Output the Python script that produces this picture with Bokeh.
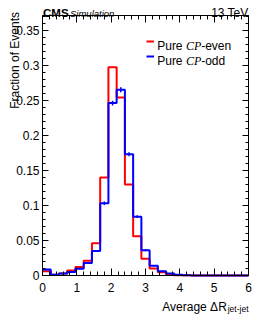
import math
from bokeh.plotting import figure
from bokeh.models import Label, LinearAxis, FixedTicker, Range1d
from bokeh.embed import file_html
from bokeh.resources import INLINE

# ---- data -------------------------------------------------------------
bin_edges = [0.00, 0.24, 0.48, 0.72, 0.96, 1.20, 1.44, 1.68, 1.92, 2.16,
             2.40, 2.64, 2.88, 3.12, 3.36, 3.60, 3.84, 4.08, 4.32, 4.56,
             4.80, 5.04, 5.28, 5.52, 5.76, 6.00]
cp_even = [0.0060, 0.0010, 0.0030, 0.0070, 0.0120, 0.0210, 0.0460, 0.1400,
           0.2970, 0.2540, 0.1300, 0.0560, 0.0240, 0.0100, 0.0047, 0.0015,
           0.0005, 0.0002, 0.0, 0.0, 0.0, 0.0, 0.0, 0.0, 0.0]
cp_odd = [0.0085, 0.0010, 0.0030, 0.0050, 0.0095, 0.0180, 0.0350, 0.1030,
          0.2460, 0.2650, 0.1730, 0.0840, 0.0360, 0.0140, 0.0060, 0.0030,
          0.0010, 0.0003, 0.0, 0.0, 0.0, 0.0, 0.0, 0.0, 0.0]
cp_odd_err = [0.0008, 0.0003, 0.0005, 0.0006, 0.0008, 0.0011, 0.0015, 0.0025,
              0.0035, 0.0035, 0.0030, 0.0020, 0.0015, 0.0010, 0.0006, 0.0004,
              0.0002, 0.0001, 0.0, 0.0, 0.0, 0.0, 0.0, 0.0, 0.0]

x_ticks = [0, 1, 2, 3, 4, 5, 6]
x_tick_labels = ["0", "1", "2", "3", "4", "5", "6"]
y_ticks = [0.0, 0.05, 0.1, 0.15, 0.2, 0.25, 0.3, 0.35]
y_tick_labels = ["0", "0.05", "0.1", "0.15", "0.2", "0.25", "0.3", "0.35"]

X_MAX = 6.0
Y_MAX = 0.371

# ---- layout: data box placed inside a full-canvas frame ----------------
W, H = 261, 327
FL, FR, FT, FB = 42.0, 248.0, 15.0, 275.0      # data box in canvas px
KX = (FR - FL) / X_MAX
KY = (FB - FT) / Y_MAX
XS = -FL / KX
XE = XS + W / KX
YE = Y_MAX + FT / KY
YS = YE - H / KY


def xd(px):
    return XS + px / KX


def yd(py):
    return YE - py / KY


FONT = "Liberation Sans"
p = figure(width=W, height=H, output_backend="svg", toolbar_location=None,
           x_range=Range1d(XS, XE), y_range=Range1d(YS, YE),
           min_border=0, min_border_left=0, min_border_right=0,
           min_border_top=0, min_border_bottom=0,
           x_axis_type=None, y_axis_type=None)
p.background_fill_color = "white"
p.border_fill_color = "white"
p.outline_line_color = None
p.xgrid.visible = False
p.ygrid.visible = False

x_minor = [round(0.2 * i, 2) for i in range(31)]
y_minor = [round(0.01 * i, 2) for i in range(38)]


def make_axis(side, loc, ticks, minor, labels, bounds, major_len, minor_len,
              show_labels, standoff):
    ax = LinearAxis(fixed_location=loc, bounds=bounds)
    ax.ticker = FixedTicker(ticks=ticks, minor_ticks=minor)
    ax.major_label_overrides = {t: l for t, l in zip(ticks, labels)}
    ax.major_tick_in = major_len
    ax.major_tick_out = 0
    ax.minor_tick_in = minor_len
    ax.minor_tick_out = 0
    ax.axis_line_color = "black"
    ax.axis_line_width = 1
    ax.major_tick_line_color = "black"
    ax.minor_tick_line_color = "black"
    ax.major_label_text_font = FONT
    ax.major_label_text_font_size = "12px"
    ax.major_label_standoff = standoff
    if show_labels:
        ax.major_label_text_color = "black"
    else:
        ax.major_label_text_color = None
    p.add_layout(ax, side)
    return ax


make_axis("below", 0.0, x_ticks, x_minor, x_tick_labels, (0, X_MAX), 7, 4, True, 7)
make_axis("above", Y_MAX, x_ticks, x_minor, x_tick_labels, (0, X_MAX), 7, 4, False, 0)
make_axis("left", 0.0, y_ticks, y_minor, y_tick_labels, (0, Y_MAX), 6, 3, True, 3)
make_axis("right", X_MAX, y_ticks, y_minor, y_tick_labels, (0, Y_MAX), 6, 3, False, 0)

# ---- histograms --------------------------------------------------------
p.step(x=bin_edges, y=cp_even + [cp_even[-1]], mode="after",
       line_color="#ff0000", line_width=2)
p.step(x=bin_edges, y=cp_odd + [cp_odd[-1]], mode="after",
       line_color="#0000ff", line_width=2)
centers = [(a + b) / 2 for a, b in zip(bin_edges[:-1], bin_edges[1:])]
p.segment(x0=centers, y0=[v - e for v, e in zip(cp_odd, cp_odd_err)],
          x1=centers, y1=[v + e for v, e in zip(cp_odd, cp_odd_err)],
          line_color="#0000ff", line_width=1.5)


def lab(text, px, py, size, align="left", baseline="alphabetic", font=FONT,
        style="normal", angle=0.0, color="black"):
    p.add_layout(Label(x=xd(px), y=yd(py), text=text, text_font=font,
                       text_font_size=size, text_font_style=style,
                       text_align=align, text_baseline=baseline,
                       angle=angle, text_color=color))


# header
lab("CMS", 42.5, 12.6, "11.5px", style="bold")
lab("Simulation", 69.5, 12.6, "9.5px", style="italic")
lab("13 TeV", 248.0, 12.8, "12px", align="right")

# axis titles
lab("Average \u0394R", 226.3, 306.0, "12px", align="right")
lab("jet-jet", 248.0, 308.7, "8.5px", align="right")
lab("Fraction of Events", 14.0, 11.5, "12px", align="right",
    angle=math.pi / 2)

# legend
leg_names = ["-even", "-odd"]
leg_colors = ["#ff0000", "#0000ff"]
leg_y = [41.0, 56.0]
p.segment(x0=[xd(146.0)] * 2, x1=[xd(153.5)] * 2,
          y0=[yd(v) for v in leg_y], y1=[yd(v) for v in leg_y],
          line_color=leg_colors, line_width=2)
for name, yy in zip(leg_names, leg_y):
    lab("Pure", 156.7, yy + 4.2, "12px")
    lab("CP", 185.4, yy + 4.2, "12px", font="Liberation Serif", style="italic")
    lab(name, 200.7, yy + 4.2, "12px")

open("out.html", "w").write(file_html(p, INLINE))
